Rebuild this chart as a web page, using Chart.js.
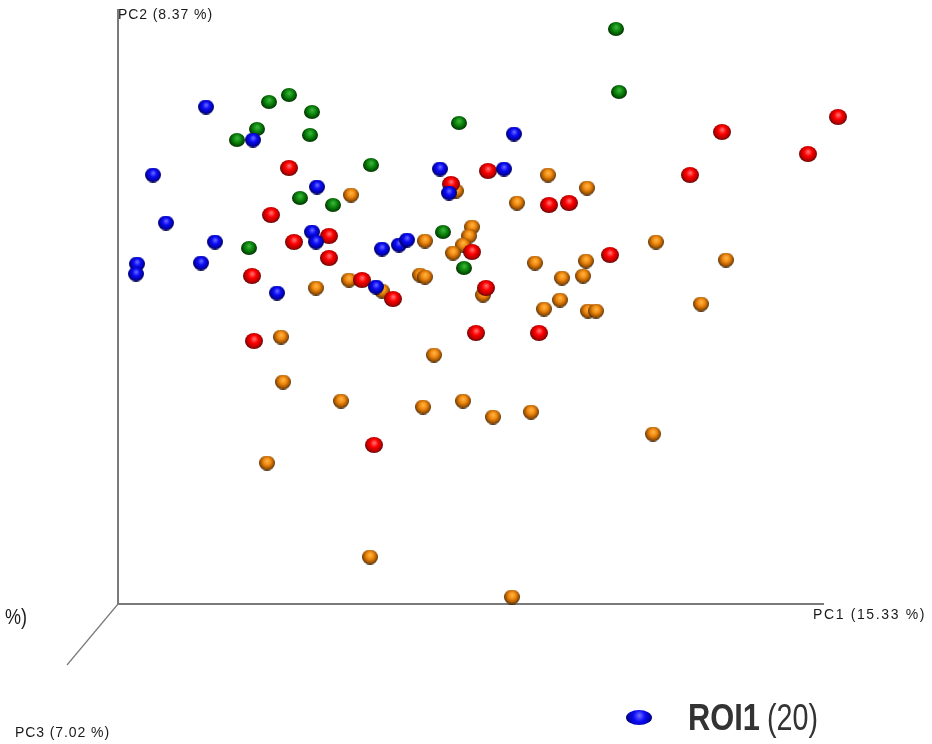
<!DOCTYPE html>
<html>
<head>
<meta charset="utf-8">
<script src="https://cdn.jsdelivr.net/npm/chart.js@4/dist/chart.umd.min.js"></script>
<style>
  html, body { margin: 0; padding: 0; background: #fff; }
  #wrap { width: 932px; height: 744px; position: relative; }
</style>
</head>
<body>
<div id="wrap"><canvas id="chart"></canvas></div>
<script>
// PCA scores, in plot units (PC1 across, PC2 up)
const roi1 = [[88,497],[135,464],[35,429],[322,435],[386,435],[331,411],[199,417],[48,381],[97,362],[194,372],
  [198,362],[264,355],[281,359],[289,364],[19,340],[18,330],[83,341],[159,311],[258,317],[396,470]];
const roi2 = [[498,575],[501,512],[151,502],[171,509],[194,492],[139,475],[119,464],[192,469],[341,481],[253,439],
  [182,406],[215,399],[131,356],[325,372],[346,336]];
const roi3 = [[720,487],[604,472],[690,450],[572,429],[171,436],[370,433],[333,420],[431,399],[451,401],[153,389],
  [211,368],[176,362],[354,352],[211,346],[492,349],[134,328],[244,324],[275,305],[368,316],[136,263],
  [358,271],[421,271],[256,159]];
const roi4 = [[338,413],[233,409],[399,401],[430,429],[469,416],[354,377],[351,368],[345,359],[307,363],[335,351],
  [538,362],[608,344],[417,341],[468,343],[444,326],[465,328],[583,300],[442,304],[426,295],[470,293],
  [478,293],[198,316],[231,324],[264,313],[302,329],[307,327],[365,309],[163,267],[316,249],[165,222],
  [223,203],[305,197],[345,203],[375,187],[413,192],[535,170],[149,141],[252,47],[394,7]];

const axisLabels = ["PC1 (15.33 %)", "PC2 (8.37 %)", "PC3 (7.02 %)"];
const legendName = "ROI1";
const legendCount = "(20)";

// little shaded ball used as the point style
function ball(light, base, dark, w, h) {
  const c = document.createElement("canvas");
  c.width = w; c.height = h;
  const g = c.getContext("2d");
  const grad = g.createRadialGradient(w * 0.52, h * 0.36, 0, w * 0.5, h * 0.45, w * 0.56);
  grad.addColorStop(0, light);
  grad.addColorStop(0.4, base);
  grad.addColorStop(0.78, dark);
  grad.addColorStop(1, "rgba(0,0,0,0.95)");
  g.fillStyle = grad;
  g.beginPath();
  g.ellipse(w / 2, h / 2, w / 2, h / 2, 0, 0, Math.PI * 2);
  g.fill();
  return c;
}

const blueBall = ball("#7070ff", "#0c0cf8", "#0000a0", 16, 15);
const greenBall = ball("#40b840", "#108c10", "#004c00", 16, 14);
const redBall = ball("#ff7878", "#ff0000", "#a80000", 18, 16);
const orangeBall = ball("#ffb848", "#f28a10", "#9a5000", 16, 15);

const toXY = arr => arr.map(p => ({ x: p[0], y: p[1] }));

// text squeezed or stretched to a given width
function fitText(ctx, text, x, y, width) {
  const w = ctx.measureText(text).width;
  ctx.save();
  ctx.translate(x, y);
  ctx.scale(width / w, 1);
  ctx.fillText(text, 0, 0);
  ctx.restore();
}

// small labels: spread the letters out to a given width
function spacedText(ctx, text, x, y, width) {
  ctx.save();
  ctx.letterSpacing = "0px";
  const w = ctx.measureText(text).width;
  const extra = (width - w) / text.length;
  ctx.letterSpacing = extra.toFixed(2) + "px";
  if (Math.abs(ctx.measureText(text).width - w) < 0.5) {
    ctx.restore();
    fitText(ctx, text, x, y, width);
    return;
  }
  ctx.fillText(text, x, y);
  ctx.restore();
}

const axesPlugin = {
  id: "axes3d",
  beforeDatasetsDraw(chart) {
    const ctx = chart.ctx;
    const sx = chart.scales.x, sy = chart.scales.y;
    const x0 = sx.getPixelForValue(0);
    const y0 = sy.getPixelForValue(0);
    const xEnd = sx.getPixelForValue(706);
    ctx.save();
    ctx.strokeStyle = "#7a7a7a";
    ctx.lineWidth = 2;
    ctx.beginPath();
    ctx.moveTo(x0, chart.chartArea.top);
    ctx.lineTo(x0, y0);
    ctx.lineTo(xEnd, y0);
    ctx.stroke();
    ctx.lineWidth = 1.2;
    ctx.beginPath();
    ctx.moveTo(x0, y0);
    ctx.lineTo(x0 - 51, y0 + 61);
    ctx.stroke();

    ctx.fillStyle = "#1a1a1a";
    ctx.font = "14px 'Liberation Sans', Arial, sans-serif";
    ctx.textBaseline = "alphabetic";
    spacedText(ctx, axisLabels[1], x0, 19, 95);
    spacedText(ctx, axisLabels[0], sx.getPixelForValue(695), y0 + 15, 113);
    spacedText(ctx, axisLabels[2], 15, 737, 95);
    ctx.font = "22px 'Liberation Sans', Arial, sans-serif";
    fitText(ctx, "%)", 5, y0 + 20, 22);
    ctx.restore();
  },
  afterDraw(chart) {
    const ctx = chart.ctx;
    ctx.save();
    ctx.drawImage(ball("#7070ff", "#0c0cf8", "#0000a0", 26, 15), 626, 710);
    ctx.fillStyle = "#333";
    ctx.textBaseline = "alphabetic";
    ctx.font = "bold 36px 'Liberation Sans', Arial, sans-serif";
    fitText(ctx, legendName, 688, 730, 72);
    ctx.font = "36px 'Liberation Sans', Arial, sans-serif";
    fitText(ctx, legendCount, 767, 730, 51);
    ctx.restore();
  }
};

const ds = (label, data, img) => ({
  label, data: toXY(data), pointStyle: img, pointRadius: 8, pointHoverRadius: 8, clip: false
});

new Chart(document.getElementById("chart"), {
  type: "scatter",
  data: {
    datasets: [
      ds("ROI1", roi1, blueBall),
      ds("ROI2", roi2, greenBall),
      ds("ROI3", roi3, redBall),
      ds("ROI4", roi4, orangeBall)
    ]
  },
  options: {
    responsive: true,
    maintainAspectRatio: false,
    animation: false,
    layout: { padding: { left: 118, right: 74, top: 9, bottom: 140 } },
    scales: {
      x: { type: "linear", min: 0, max: 740, display: false },
      y: { type: "linear", min: 0, max: 595, display: false }
    },
    plugins: {
      legend: { display: false },
      tooltip: { enabled: false }
    }
  },
  plugins: [axesPlugin]
});
</script>
</body>
</html>
